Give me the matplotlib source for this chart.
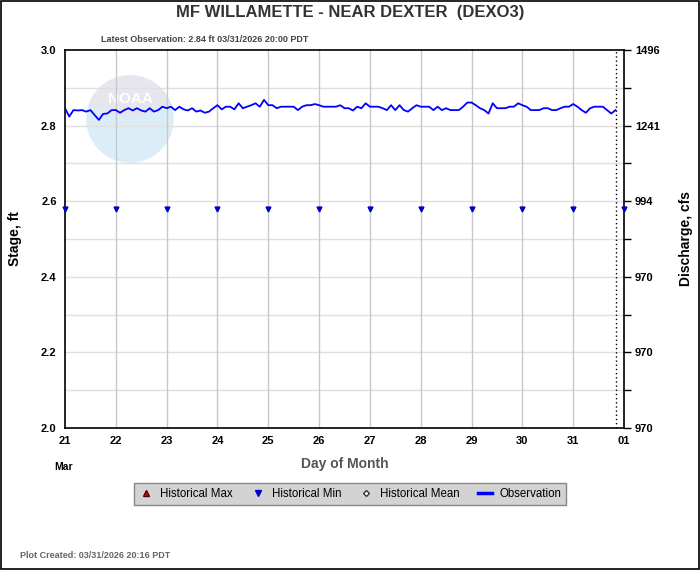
import matplotlib
matplotlib.use('Agg')
import matplotlib.pyplot as plt
from matplotlib.lines import Line2D
from matplotlib.patches import Circle, Wedge
import numpy as np

plt.rcParams['font.family'] = ['Liberation Sans', 'DejaVu Sans']

# observed stage (ft), every 2 hours from Mar 21 00:00 to Mar 31 20:00
stage = [
    2.846, 2.824, 2.841, 2.840, 2.841, 2.837, 2.841, 2.828, 2.815, 2.831, 2.832, 2.841,  # 21
    2.841, 2.834, 2.841, 2.846, 2.840, 2.846, 2.840, 2.837, 2.846, 2.837, 2.841, 2.850,  # 22
    2.846, 2.850, 2.841, 2.850, 2.843, 2.840, 2.846, 2.837, 2.840, 2.834, 2.837, 2.846,  # 23
    2.854, 2.843, 2.850, 2.850, 2.843, 2.859, 2.846, 2.850, 2.854, 2.859, 2.850, 2.868,  # 24
    2.854, 2.854, 2.846, 2.850, 2.850, 2.850, 2.850, 2.841, 2.850, 2.854, 2.854, 2.857,  # 25
    2.854, 2.850, 2.850, 2.850, 2.850, 2.854, 2.846, 2.846, 2.840, 2.850, 2.846, 2.859,  # 26
    2.850, 2.850, 2.850, 2.846, 2.841, 2.854, 2.841, 2.854, 2.841, 2.837, 2.846, 2.854,  # 27
    2.850, 2.850, 2.850, 2.841, 2.850, 2.841, 2.846, 2.841, 2.841, 2.841, 2.850, 2.861,  # 28
    2.861, 2.854, 2.846, 2.841, 2.832, 2.859, 2.846, 2.846, 2.846, 2.850, 2.850, 2.859,  # 29
    2.854, 2.850, 2.841, 2.841, 2.841, 2.846, 2.846, 2.841, 2.841, 2.846, 2.850, 2.850,  # 30
    2.857, 2.850, 2.841, 2.834, 2.846, 2.850, 2.850, 2.850, 2.841, 2.832, 2.841,         # 31
]
obs_hours = np.arange(len(stage)) * 2

day_labels = ['21', '22', '23', '24', '25', '26', '27', '28', '29', '30', '31', '01']
hist_min = [2.58] * len(day_labels)

stage_ticks = [2.0, 2.2, 2.4, 2.6, 2.8, 3.0]
flow_labels = ['970', '970', '970', '994', '1241', '1496']

t_days = obs_hours / 24.0
days = np.arange(len(day_labels))

fig = plt.figure(figsize=(7, 5.7), dpi=100)
ax = fig.add_axes([65 / 700, 142 / 570, 559 / 700, 378 / 570])

# grid
for y in np.arange(2.1, 3.0, 0.1):
    ax.axhline(y, color='#e0e0e0', lw=1, zorder=0)
for d in days[1:-1]:
    ax.axvline(d, color='#c8c8c8', lw=1, zorder=0)

# NOAA watermark
logo_ax = fig.add_axes([86 / 700, 570 / 570 - 163 / 570, 88 / 700, 88 / 570])
logo_ax.set_xlim(-1, 1)
logo_ax.set_ylim(-1, 1)
logo_ax.set_aspect('equal')
logo_ax.axis('off')
logo_ax.add_patch(Circle((0, 0), 0.98, color='#dbeef7', zorder=0))
logo_ax.add_patch(Wedge((0, 0), 0.98, 20, 160, color='#e6e6ee', zorder=1))
logo_ax.text(0, 0.45, 'NOAA', ha='center', va='center', color='white',
             fontsize=11, fontweight='bold', zorder=2)

ax.set_zorder(2)
ax.patch.set_alpha(0)

ax.plot(t_days, stage, color='#0000ff', lw=1.3, zorder=3)
ax.plot(days, hist_min, linestyle='none', marker='v', color='#0000cc',
        markersize=3.5, clip_on=False, zorder=4)
ax.axvline(t_days[-1], color='black', lw=1, linestyle=(0, (1, 2)), zorder=3)

ax.set_xlim(0, 11)
ax.set_ylim(2.0, 3.0)
ax.set_xticks(days)
ax.set_xticklabels(day_labels, fontsize=8, fontweight='bold')
ax.set_yticks(stage_ticks)
ax.set_yticklabels(['%.1f' % v for v in stage_ticks], fontsize=8, fontweight='bold')
ax.tick_params(axis='both', length=0, pad=6)
for s in ax.spines.values():
    s.set_linewidth(1.2)

ax2 = ax.twinx()
ax2.set_ylim(2.0, 3.0)
ax2.set_yticks(stage_ticks)
ax2.set_yticklabels(flow_labels, fontsize=8, fontweight='bold')
ax2.set_yticks(np.arange(2.1, 3.0, 0.2), minor=True)
ax2.tick_params(axis='y', which='both', length=5, width=1, direction='out', pad=3)
for s in ax2.spines.values():
    s.set_visible(False)

ax.set_ylabel('Stage, ft', fontsize=10, fontweight='bold', labelpad=14)
ax2.set_ylabel('Discharge, cfs', fontsize=10, fontweight='bold', labelpad=14)
ax.set_xlabel('Day of Month', fontsize=10, fontweight='bold', color='#555555', labelpad=8)

fig.text(350 / 700, 1 - 13 / 570, 'MF WILLAMETTE - NEAR DEXTER  (DEXO3)', ha='center',
         va='center', fontsize=12, fontweight='bold', color='#333333')
fig.text(205 / 700, 1 - 40 / 570, 'Latest Observation: 2.84 ft 03/31/2026 20:00 PDT',
         ha='center', va='center', fontsize=6.5, fontweight='bold', color='#444444')
fig.text(64 / 700, 1 - 467 / 570, 'Mar', ha='center', va='center', fontsize=7.5,
         fontweight='bold')
fig.text(20 / 700, 1 - 556 / 570, 'Plot Created: 03/31/2026 20:16 PDT', ha='left',
         va='center', fontsize=6.5, fontweight='bold', color='#666666')

handles = [
    Line2D([], [], linestyle='none', marker='^', color='#dd0000', markeredgecolor='#550000',
           markersize=5),
    Line2D([], [], linestyle='none', marker='v', color='#0000cc', markersize=5),
    Line2D([], [], linestyle='none', marker='D', markerfacecolor='white',
           markeredgecolor='#333333', markersize=3),
    Line2D([], [], color='#0000ff', lw=2.5),
]
leg = fig.legend(handles, ['Historical Max', 'Historical Min', 'Historical Mean', 'Observation'],
                 loc='center', bbox_to_anchor=(350 / 700, 1 - 494 / 570), ncol=4,
                 fontsize=8.3, frameon=True, fancybox=False, handlelength=1.2,
                 handletextpad=0.6, columnspacing=1.6, borderpad=0.4)
leg.get_frame().set_facecolor('#d3d3d3')
leg.get_frame().set_edgecolor('#888888')
leg.get_frame().set_alpha(1)

fig.patches.append(plt.Rectangle((0.001, 0.001), 0.997, 0.997, transform=fig.transFigure,
                                 fill=False, edgecolor='black', lw=1.2))

fig.savefig('out.png', dpi=100)
